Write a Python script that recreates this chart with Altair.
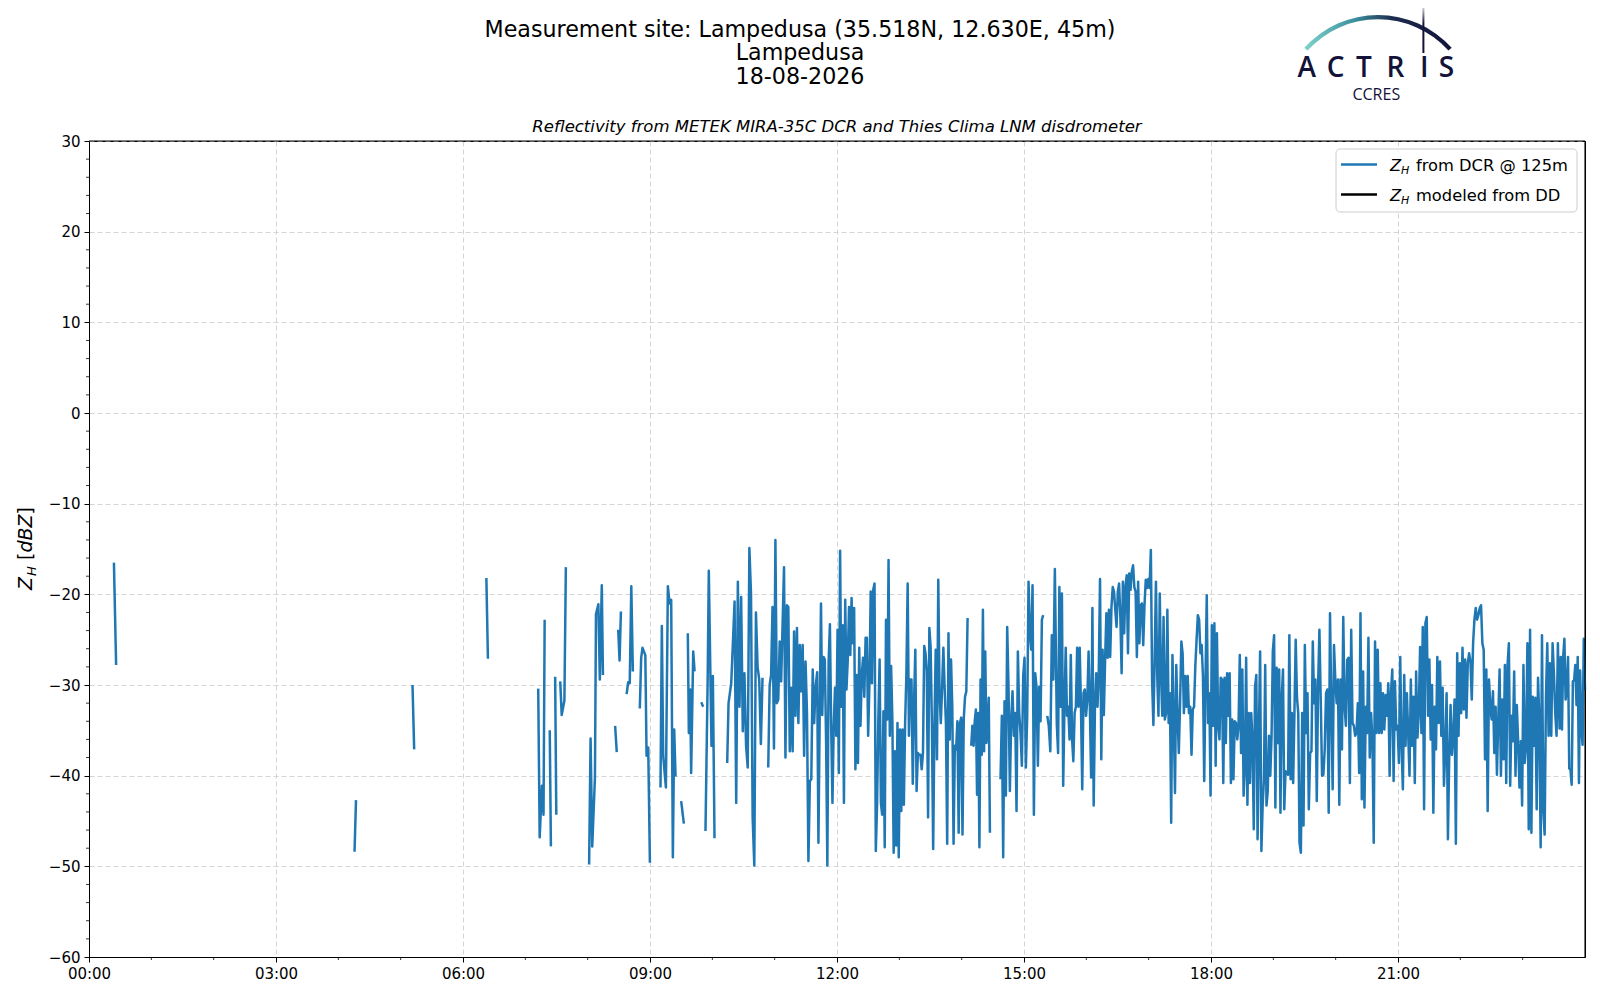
import altair as alt
import pandas as pd

W, H = 1496, 816

# ---------------- text ----------------
TITLE_LINES = ["Measurement site: Lampedusa (35.518N, 12.630E, 45m)", "Lampedusa", "18-08-2026"]
SUBTITLE = "Reflectivity from METEK MIRA-35C DCR and Thies Clima LNM disdrometer"
LEGEND_REST = ["from DCR @ 125m", "modeled from DD"]
LEGEND_COLORS = ["#1f77b4", "black"]
LOGO_LETTERS = ["A", "C", "T", "R", "I", "S"]

# ---------------- axis ticks ----------------
X_TICKS_MIN = [0, 180, 360, 540, 720, 900, 1080, 1260]
Y_TICKS = [-60, -50, -40, -30, -20, -10, 0, 10, 20, 30]
X_MINOR = [60, 120, 240, 300, 420, 480, 600, 660, 780, 840, 960, 1020, 1140, 1200, 1320, 1380]
Y_MINOR = [v for v in range(-58, 30, 2) if v % 10 != 0]

# ---------------- data: Z_H from DCR (minutes after 00:00, dBZ) ----------------
# isolated short segments: (times, values)
SPARSE = [
    ([24.0, 26.1], [-16.5, -27.8]),
    ([255.6, 257.0], [-48.4, -42.7]),
    ([311.4, 313.0], [-30.0, -37.1]),
    ([382.5, 384.0], [-18.2, -27.1]),
    ([432.4, 433.8, 436.0, 437.5, 438.6], [-30.4, -46.8, -41.1, -44.3, -22.8]),
    ([443.5, 444.6], [-35.0, -47.8]),
    ([448.7, 449.8], [-29.1, -44.3]),
    ([453.6, 455.0, 457.6, 459.0], [-29.6, -33.3, -31.7, -17.0]),
    ([481.4, 482.8, 484.4, 487.0, 488.0, 490.3, 491.7, 493.6, 494.7],
     [-49.8, -35.9, -47.8, -40.2, -22.2, -21.1, -29.4, -19.0, -28.9]),
    ([506.4, 508.0], [-34.5, -37.4]),
    ([509.4, 510.7, 512.0], [-23.9, -27.3, -21.9]),
    ([517.5, 519.0, 520.5, 522.0, 523.5], [-31.0, -29.7, -29.8, -19.1, -28.5]),
    ([530.2, 531.5, 532.8, 535.5, 536.7, 538.3, 539.9], [-32.6, -27.0, -25.9, -26.7, -37.8, -36.9, -49.6]),
    ([550.1, 551.4, 552.7, 555.3, 557.2, 558.8, 560.4, 562.0, 563.3, 564.6],
     [-41.3, -23.5, -37.8, -41.3, -19.1, -21.0, -20.6, -49.0, -34.9, -40.1]),
    ([570.0, 572.6], [-42.8, -45.3]),
    ([576.4, 577.4, 578.7, 579.6, 581.6, 582.9], [-24.3, -35.3, -30.5, -39.7, -26.3, -28.5]),
    ([589.3, 591.2], [-31.9, -32.4]),
    ([593.4, 595.5, 596.6, 599.2, 600.5, 602.1], [-46.1, -29.5, -17.4, -36.7, -29.0, -46.9]),
]
LEAD_T = [614.3, 615.6, 618.2]
LEAD_V = [-38.6, -32.0, -29.8]

D1 = [-20.8, -43.0, -18.6, -32.4, -20.3, -35.1, -28.7, -36.7, -39.1, -14.9, -19.9, -44.6, -49.9,
      -22.0, -28.0, -29.4, -36.5, -29.2]
D2 = [-39.1, -30.0, -28.9, -21.4, -37.0, -14.0, -32.0, -31.6, -25.2, -29.6, -23.3, -17.0, -38.0,
      -21.2, -21.4, -37.3, -30.3, -37.3, -24.1, -33.4, -23.7, -34.2, -25.6, -30.7, -25.6, -37.8,
      -27.4, -33.1, -49.4, -40.6, -40.4, -28.3, -34.2, -30.2]
Z6A = [-28.6, -47.4, -33.3, -21.0, -33.3, -26.9, -27.2, -36.0, -49.9, -27.4, -23.3, -34.5, -43.0,
       -34.5, -30.3, -35.6, -23.9, -39.7, -15.2, -32.4, -23.4, -43.0, -20.6, -30.5, -27.2, -21.4,
       -26.7, -20.4, -25.4, -21.5, -39.3, -28.9, -38.6, -25.9, -34.5, -28.9, -27.0, -31.3, -24.8,
       -24.8, -35.6, -29.8, -19.7, -29.8, -19.5, -18.8, -48.3, -43.2, -33.8, -27.2, -43.0, -44.3,
       -32.9, -47.9, -22.8, -33.8, -16.2, -35.6, -27.9, -33.8, -48.5, -37.3, -47.7, -34.2, -49.0,
       -34.9, -43.9, -34.9, -43.2, -34.2, -28.7, -18.8, -35.6, -29.4, -29.4, -40.9, -32.0, -26.1,
       -41.7, -37.5, -37.7, -37.7, -39.3, -37.5, -25.7, -26.5, -28.5, -44.6, -23.7, -25.8, -34.2,
       -48.1, -34.4, -26.1, -38.2, -18.4, -30.9, -34.2, -30.3, -25.9, -30.3, -34.2, -47.5, -24.3,
       -36.0, -27.2, -32.4, -47.5, -36.7, -37.1, -34.0, -46.3, -34.2, -33.6, -46.5, -33.7, -31.3,
       -30.7, -22.6]
Z6B = [-36.7, -34.5, -36.7, -34.0, -32.7, -42.1, -33.1, -47.9, -29.4, -37.7, -21.7, -37.3, -26.3,
       -36.4, -34.5, -31.4, -46.3]
Z6C = [-40.4, -33.4, -49.0, -31.8, -42.2, -23.6, -30.3, -41.7, -33.8, -30.7, -35.6, -33.1, -43.9,
       -26.3, -33.1, -35.3, -38.9, -29.0, -27.0, -39.1, -33.4, -18.6, -24.3, -26.1, -19.0, -44.3,
       -28.7, -30.3, -38.9, -30.2, -34.0, -22.8, -22.3]
Z6D = [-33.4, -34.5, -37.3, -24.5, -29.4, -17.2]
Z7 = [-34.4, -37.5, -19.2, -32.4, -19.9, -41.1, -32.4, -25.9, -33.4, -32.4, -36.0, -26.7, -36.0,
      -38.4, -33.1, -32.4, -25.9, -32.4, -25.9, -32.4, -41.5, -30.9, -30.5, -33.4, -31.6, -26.3,
      -32.4, -40.2, -21.5, -43.3, -32.4, -28.7, -32.4, -28.7, -18.3, -38.2, -26.1, -33.3, -27.2,
      -22.1, -27.0, -21.7, -26.9, -21.4, -19.2, -19.7, -21.7, -23.6, -19.7, -18.8, -22.5, -28.7,
      -18.6, -24.3, -19.2, -17.9, -26.5, -17.7, -19.5, -17.5, -16.8, -19.2, -19.7, -26.9, -18.6,
      -25.4, -21.2, -21.0, -25.6, -21.2, -18.4, -19.3, -18.3, -19.3, -15.1, -29.6, -34.4, -27.0,
      -18.6, -28.9, -33.4, -19.9, -28.9, -33.4, -22.5, -33.8, -33.1, -21.7, -34.2, -30.9, -45.2,
      -26.7, -33.4, -41.9, -27.8, -33.4, -37.5, -32.0, -25.2, -26.5, -33.1, -29.0, -32.4, -29.0,
      -33.1, -32.4, -37.7, -32.7, -32.4, -27.9, -25.0, -22.3, -22.8, -26.5, -25.6, -29.0, -40.6,
      -29.4, -20.1, -34.2, -30.9, -42.2, -23.4, -34.5, -23.2, -38.9, -24.3, -34.5, -36.0, -29.2,
      -29.4, -40.8, -29.2, -36.4, -28.7, -33.4, -28.7, -40.8, -33.8, -40.4, -34.0, -34.2, -36.0,
      -34.5, -26.7, -37.5, -28.3, -42.2, -39.3, -27.0, -43.2, -33.1, -40.8, -33.1, -36.0, -45.9,
      -30.2, -28.9, -47.0, -35.6, -26.3, -48.3, -43.2, -40.4, -27.8, -43.3, -41.7, -35.6, -40.0,
      -35.6, -26.3, -24.5, -43.5, -28.1, -36.4, -28.3, -44.1, -31.4, -28.3, -43.7, -39.5, -39.7,
      -39.9, -24.5, -40.4, -33.1, -40.8, -33.1, -25.0, -31.4, -33.1, -47.4]
Z8 = [-48.5, -33.1, -45.5, -25.6, -35.3, -30.9, -43.7, -37.5, -37.3, -25.2, -32.0, -29.4, -42.8,
      -30.2, -23.9, -31.6, -40.0, -39.9, -37.1, -30.9, -30.5, -44.1, -22.1, -32.4, -41.5, -25.6,
      -29.4, -32.0, -29.4, -43.2, -29.4, -37.1, -22.5, -32.4, -34.5, -27.2, -27.0, -40.8, -23.9,
      -34.2, -34.5, -35.6, -35.3, -32.0, -39.7, -22.1, -42.6, -28.5, -43.5, -32.4, -35.3, -24.8,
      -38.0, -33.1, -36.0, -47.4, -25.2, -35.3, -26.1, -35.3, -29.8, -35.3, -30.9, -34.9, -31.1,
      -33.4, -29.8, -40.0, -30.9, -28.3, -40.6, -29.6, -34.9, -34.5, -38.6, -26.9, -36.7, -41.5,
      -28.9, -36.7, -30.9, -35.3, -40.0, -29.4, -36.7, -31.3, -40.8, -28.5, -35.8, -33.1, -25.8,
      -35.3, -23.6, -43.7, -23.2, -22.5, -33.4, -27.2, -36.0, -30.0, -44.1, -32.4, -37.1, -26.9,
      -34.2, -27.4, -35.6, -30.3, -41.1, -37.1, -30.9, -47.0, -37.8, -32.2, -37.7, -35.6, -31.6,
      -47.5, -26.5, -35.6, -27.6, -33.1, -25.9, -32.7, -27.2, -33.6, -27.6, -26.5, -27.4, -31.6,
      -25.4, -22.8, -21.5, -22.8, -22.3, -21.5, -21.2, -25.4, -26.1, -38.2, -28.3, -43.9, -29.4,
      -32.4, -33.8, -30.7, -37.5, -32.4, -39.9, -33.8, -28.3, -40.0, -31.6, -38.2, -27.8, -40.8,
      -27.8, -25.4, -41.1, -33.4, -36.2, -28.5, -40.0, -32.2, -36.2, -41.3, -36.2, -43.3, -27.8,
      -38.6, -36.7, -25.4, -45.9, -23.9, -46.3, -31.3, -36.7, -31.4, -43.7, -29.2, -33.8, -47.9,
      -24.5, -43.9, -46.5, -31.3, -25.4, -35.6, -27.6, -35.6, -25.4, -28.7, -33.1, -35.6, -25.4]
TAIL = [-34.8, -26.9, -34.9, -26.9, -24.9, -31.6, -30.5, -26.9, -39.2, -39.3, -41.0, -29.6, -29.5,
        -27.8, -32.2, -26.9, -40.8, -28.4, -34.9, -36.6, -24.9, -30.5]

# continuous runs: (start minute, end minute, values, run id)
DENSE = [
    (621.4, 648.3, D1, "r1"),
    (653.8, 699.4, D2, "r2"),
    (700.9, 845.7, Z6A, "r2"),
    (849.2, 867.2, Z6B, "r3"),
    (877.4, 918.5, Z6C, "r4"),
    (922.4, 929.7, Z6D, "r5"),
    (931.6, 1165.2, Z7, "r5"),
    (1166.5, 1413.9, Z8, "r5"),
    (1415.5, 1440.0, TAIL, "r5"),
]

rows = []
for i, (ts, vs) in enumerate(SPARSE):
    for t, v in zip(ts, vs):
        rows.append({"t": t, "v": v, "g": f"s{i}"})
for t, v in zip(LEAD_T, LEAD_V):
    rows.append({"t": t, "v": v, "g": "r1"})
for t0, t1, vs, g in DENSE:
    n = len(vs)
    for k, v in enumerate(vs):
        rows.append({"t": t0 + (t1 - t0) * k / (n - 1), "v": v, "g": g})
df = pd.DataFrame(rows)

FONT = "DejaVu Sans"
one = pd.DataFrame({"k": [0]})


def txt(s, x, y, size, style="normal", align="center", baseline="middle", angle=0,
        color="black", font=FONT, weight="normal"):
    return alt.Chart(one).mark_text(
        text=s, fontSize=size, fontStyle=style, align=align, baseline=baseline,
        angle=angle, color=color, font=font, fontWeight=weight
    ).encode(x=alt.value(x), y=alt.value(y))


axis_common = dict(
    grid=True, gridColor="#d0d0d0", gridDash=[5, 3], gridWidth=0.9,
    domainColor="black", domainWidth=1, tickColor="black", tickSize=5, tickWidth=1,
    labelFont=FONT, labelFontSize=15, labelColor="black", labelPadding=4,
    labelFlush=False, labelOverlap=False, title=None,
)

line = alt.Chart(df).mark_line(color="#1f77b4", strokeWidth=2.5, strokeJoin="round").encode(
    x=alt.X("t:Q", scale=alt.Scale(domain=[0, 1440], nice=False, zero=False),
            axis=alt.Axis(values=X_TICKS_MIN,
                          labelExpr="(datum.value < 600 ? '0' : '') + floor(datum.value / 60) + ':00'",
                          **axis_common)),
    y=alt.Y("v:Q", scale=alt.Scale(domain=[-60, 30], nice=False, zero=False),
            axis=alt.Axis(values=Y_TICKS, labelExpr="replace(datum.label, '-', '\u2212')",
                          **axis_common)),
    detail="g:N",
)

yminor = alt.Chart(pd.DataFrame({"v": Y_MINOR})).mark_rule(color="black", strokeWidth=0.8).encode(
    y="v:Q", x=alt.value(-3), x2=alt.value(0))
xminor = alt.Chart(pd.DataFrame({"t": X_MINOR})).mark_rule(color="black", strokeWidth=0.8).encode(
    x="t:Q", y=alt.value(H), y2=alt.value(H + 3))
# solid top and right spines drawn over the grid
top_spine = alt.Chart(one).mark_rule(color="black", strokeWidth=1.1).encode(
    x=alt.value(0), x2=alt.value(W), y=alt.value(0))
right_spine = alt.Chart(one).mark_rule(color="black", strokeWidth=1.1).encode(
    x=alt.value(W), y=alt.value(0), y2=alt.value(H))

layers = [line, yminor, xminor, top_spine, right_spine]

# titles
for i, s in enumerate(TITLE_LINES):
    layers.append(txt(s, 711, -111.5 + 23.5 * i, 22.2))
layers.append(txt(SUBTITLE, 748, -14.5, 16.5, style="italic"))

# y-axis label  Z_H [dBZ]
layers += [
    txt("Z", -57, 449, 19, style="italic", align="left", baseline="alphabetic", angle=270),
    txt("H", -53, 435, 13, style="italic", align="left", baseline="alphabetic", angle=270),
    txt("[", -57, 419, 19, align="left", baseline="alphabetic", angle=270),
    txt("dBZ", -57, 411.6, 19, style="italic", align="left", baseline="alphabetic", angle=270),
    txt("]", -57, 373.5, 19, align="left", baseline="alphabetic", angle=270),
]

# legend
layers.append(alt.Chart(one).mark_rect(cornerRadius=4, fill="white", fillOpacity=0.8,
                                       stroke="#cccccc", strokeWidth=1).encode(
    x=alt.value(1247), x2=alt.value(1488), y=alt.value(8), y2=alt.value(71)))
for i, (rest, col) in enumerate(zip(LEGEND_REST, LEGEND_COLORS)):
    yy = 23.5 + 30 * i
    layers.append(alt.Chart(one).mark_rule(color=col, strokeWidth=2.4).encode(
        x=alt.value(1252), x2=alt.value(1288), y=alt.value(yy)))
    layers.append(txt("Z", 1301, yy + 6, 16.3, style="italic", align="left", baseline="alphabetic"))
    layers.append(txt("H", 1312, yy + 9.5, 11, style="italic", align="left", baseline="alphabetic"))
    layers.append(txt(rest, 1327, yy + 6, 16.3, align="left", baseline="alphabetic"))

# logo
NAVY = "#13133a"
layers.append(alt.Chart(one).mark_arc(
    theta=5.447, theta2=7.119, outerRadius=99.3, innerRadius=95.0,
    fill={"gradient": "linear", "x1": 0, "x2": 1, "y1": 0, "y2": 0,
          "stops": [{"offset": 0, "color": "#7fd2cb"}, {"offset": 0.35, "color": "#3b8f9c"},
                    {"offset": 0.6, "color": "#1c2c4e"}, {"offset": 1, "color": NAVY}]},
).encode(x=alt.value(1289), y=alt.value(-26.7)))
layers.append(alt.Chart(one).mark_rect(
    fill={"gradient": "linear", "x1": 0, "x2": 0, "y1": 0, "y2": 1,
          "stops": [{"offset": 0, "color": "#c8c8d4"}, {"offset": 0.35, "color": NAVY},
                    {"offset": 1, "color": NAVY}]},
).encode(x=alt.value(1333.4), x2=alt.value(1335.4), y=alt.value(-133), y2=alt.value(-88)))
LETTER_X = [1217.7, 1246.5, 1275.0, 1306.5, 1335.3, 1357.5]
for ch, lx in zip(LOGO_LETTERS, LETTER_X):
    layers.append(txt(ch, lx, -64, 28, baseline="alphabetic", color=NAVY, font="Open Sans",
                      weight=600))
layers.append(txt("CCRES", 1287.3, -41, 16, baseline="alphabetic", color=NAVY, font="Open Sans"))

chart = alt.layer(*layers).properties(
    width=W, height=H,
    padding={"left": 81, "top": 133, "right": 7, "bottom": 35},
    autosize=alt.AutoSizeParams(type="none"),
).configure_view(stroke="black", strokeWidth=1)

chart.save("out.html", embed_options={"renderer": "svg", "actions": False})
